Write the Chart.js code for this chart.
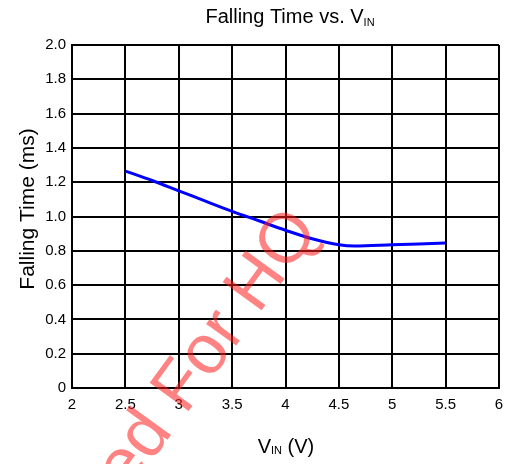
<!DOCTYPE html>
<html>
<head>
<meta charset="utf-8">
<script src="https://cdn.jsdelivr.net/npm/chart.js@4"></script>
<style>
html,body{margin:0;padding:0;background:#fff;}
#wrap{width:506px;height:464px;position:relative;}
</style>
</head>
<body>
<div id="wrap"><canvas id="c" width="506" height="464"></canvas></div>
<script>
// Data
const vin = [2.5, 2.75, 3.0, 3.25, 3.5, 3.75, 4.0, 4.25, 4.5, 4.65, 5.0, 5.5];
const fallTime = [1.265, 1.21, 1.15, 1.09, 1.03, 0.975, 0.92, 0.87, 0.835, 0.828, 0.835, 0.845];
const xTicks = [2, 2.5, 3, 3.5, 4, 4.5, 5, 5.5, 6];
const yTicks = [0, 0.2, 0.4, 0.6, 0.8, 1.0, 1.2, 1.4, 1.6, 1.8, 2.0];
const titleMain = "Falling Time vs. V";
const titleSub = "IN";
const xTitleMain = "V";
const xTitleSub = "IN";
const xTitleTail = " (V)";
const yTitle = "Falling Time (ms)";
const watermark = "Prepared For HQ";

const FONT = "'Liberation Sans', Arial, sans-serif";

function drawSubText(ctx, cx, y, parts, size, subDy) {
  let total = 0;
  const widths = parts.map(p => {
    ctx.font = (p[1] ? Math.round(size * 0.55) : size) + "px " + FONT;
    const w = ctx.measureText(p[0]).width;
    total += w;
    return w;
  });
  let x = cx - total / 2;
  parts.forEach((p, i) => {
    ctx.font = (p[1] ? Math.round(size * 0.55) : size) + "px " + FONT;
    ctx.fillText(p[0], x, p[1] ? y + subDy : y);
    x += widths[i];
  });
}

const decorPlugin = {
  id: 'decor',
  afterDraw(chart) {
    const ctx = chart.ctx;
    ctx.save();
    ctx.fillStyle = '#000';
    ctx.textBaseline = 'alphabetic';
    ctx.textAlign = 'left';
    // Title
    drawSubText(ctx, 290, 23, [[titleMain, false], [titleSub, true]], 20, 3);
    // X axis title
    drawSubText(ctx, 286, 453, [[xTitleMain, false], [xTitleSub, true], [xTitleTail, false]], 20, 1);
    // Y axis title
    ctx.save();
    ctx.translate(34, 209);
    ctx.rotate(-Math.PI / 2);
    ctx.textAlign = 'center';
    ctx.font = "21px " + FONT;
    ctx.fillText(yTitle, 0, 0);
    ctx.restore();
    // Watermark
    ctx.save();
    ctx.translate(320, 230);
    ctx.rotate(-54 * Math.PI / 180);
    ctx.textAlign = 'right';
    ctx.font = "70px " + FONT;
    ctx.fillStyle = 'rgba(255,30,30,0.55)';
    ctx.fillText(watermark, 0, 0);
    ctx.restore();
    ctx.restore();
  }
};

new Chart(document.getElementById('c'), {
  type: 'line',
  data: {
    datasets: [{
      data: vin.map((x, i) => ({x: x, y: fallTime[i]})),
      borderColor: '#0000ff',
      borderWidth: 3,
      pointRadius: 0,
      cubicInterpolationMode: 'monotone',
      fill: false
    }]
  },
  options: {
    responsive: false,
    animation: false,
    devicePixelRatio: 1,
    layout: {padding: {left: 0, right: 7, top: 45, bottom: 0}},
    plugins: {legend: {display: false}, title: {display: false}, tooltip: {enabled: false}},
    scales: {
      x: {
        type: 'linear',
        min: 2, max: 6,
        afterBuildTicks(axis) { axis.ticks = xTicks.map(v => ({value: v})); },
        afterFit(axis) { axis.height = 76; axis.paddingLeft = 0; axis.paddingRight = 0; },
        grid: {color: '#000', lineWidth: 2, drawTicks: false},
        border: {color: '#000', width: 2},
        ticks: {color: '#000', font: {family: FONT, size: 15}, padding: 8, maxRotation: 0,
          callback: v => String(v)}
      },
      y: {
        min: 0, max: 2,
        afterBuildTicks(axis) { axis.ticks = yTicks.map(v => ({value: v})); },
        afterFit(axis) { axis.width = 72; axis.paddingTop = 0; axis.paddingBottom = 0; },
        grid: {color: '#000', lineWidth: 2, drawTicks: false},
        border: {color: '#000', width: 2},
        ticks: {color: '#000', font: {family: FONT, size: 15}, padding: 6,
          callback: v => v === 0 ? '0' : v.toFixed(1)}
      }
    }
  },
  plugins: [decorPlugin]
});
</script>
</body>
</html>
